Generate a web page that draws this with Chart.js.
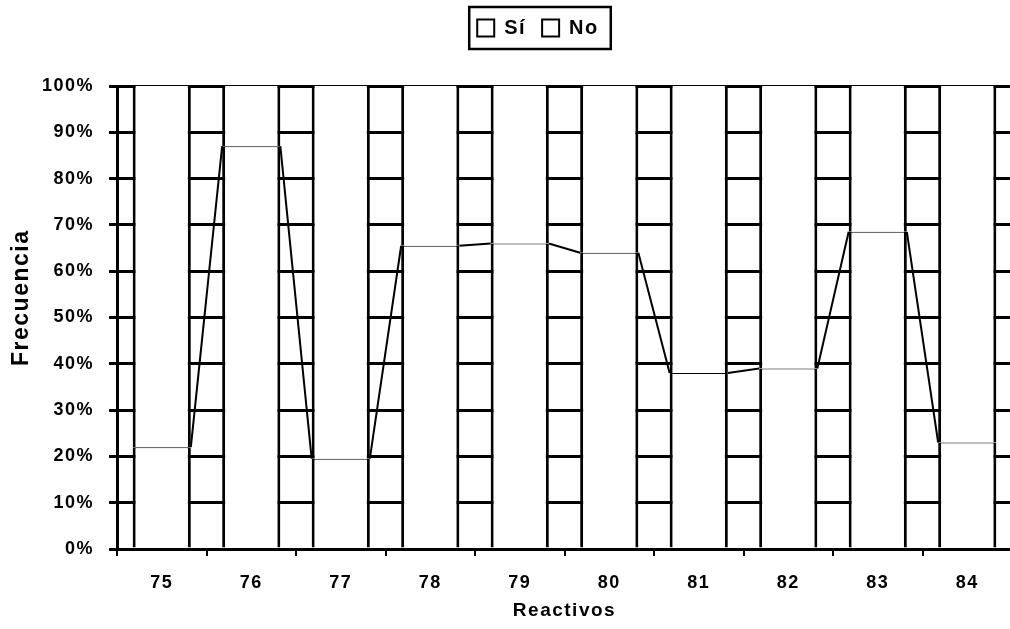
<!DOCTYPE html>
<html>
<head>
<meta charset="utf-8">
<script src="https://cdn.jsdelivr.net/npm/chart.js@4/dist/chart.umd.min.js"></script>
<style>
  html, body { margin: 0; padding: 0; background: #fff; overflow: hidden; }
  #wrap { width: 1020px; height: 629px; position: relative; }
</style>
</head>
<body>
<div id="wrap"><canvas id="myChart"></canvas></div>
<script>
// datos
const reactivos = ['75', '76', '77', '78', '79', '80', '81', '82', '83', '84']
const si = [22, 87, 19.5, 65.5, 66, 64, 38, 39, 68.5, 23]
const no = si.map(v => 100 - v)
const yTicks = [0, 10, 20, 30, 40, 50, 60, 70, 80, 90, 100]

const fuente = "'Liberation Sans', Arial, sans-serif"

// texto un poco espaciado, como el original
const espaciado = {
    id: 'espaciado',
    beforeLayout(chart) { chart.ctx.letterSpacing = '1.5px' },
    beforeDraw(chart) { chart.ctx.letterSpacing = '1.5px' }
}

// leyenda mas alta (deja hueco hasta el area del grafico) y corrida a la derecha
const legendaAjuste = {
    id: 'legendaAjuste',
    beforeInit(chart) {
        const legend = chart.legend
        const fitOrig = legend.fit
        legend.fit = function () {
            fitOrig.call(this)
            this.height = 84
        }
    },
    afterLayout(chart) {
        chart.legend.left += 32
        chart.legend.right += 32
    }
}

// lineas de serie entre barras (como en Excel)
const seriesLines = {
    id: 'seriesLines',
    afterDatasetsDraw(chart) {
        const bars = chart.getDatasetMeta(0).data
        const ctx = chart.ctx
        ctx.save()
        ctx.strokeStyle = '#000'
        ctx.lineWidth = 2
        for (let i = 0; i < bars.length - 1; i++) {
            const a = bars[i], b = bars[i + 1]
            ctx.beginPath()
            ctx.moveTo(a.x + a.width / 2, a.y)
            ctx.lineTo(b.x - b.width / 2, b.y)
            ctx.stroke()
        }
        ctx.restore()
    }
}

// marco alrededor de la leyenda
const legendFrame = {
    id: 'legendFrame',
    afterDraw(chart) {
        const boxes = chart.legend.legendHitBoxes
        if (!boxes || !boxes.length) return
        const x0 = Math.min(...boxes.map(b => b.left))
        const x1 = Math.max(...boxes.map(b => b.left + b.width))
        const y0 = Math.min(...boxes.map(b => b.top))
        const y1 = Math.max(...boxes.map(b => b.top + b.height))
        const ctx = chart.ctx
        ctx.save()
        ctx.strokeStyle = '#000'
        ctx.lineWidth = 2.5
        ctx.strokeRect(x0 - 8, y0 - 11, x1 - x0 + 20, y1 - y0 + 22)
        ctx.restore()
    }
}

let myChart = document.getElementById('myChart').getContext('2d')

const barChart = new Chart(myChart, {
    type: 'bar',
    data: {
        labels: reactivos,
        datasets: [{
            label: 'Sí',
            data: si,
            backgroundColor: '#fff',
            borderColor: '#000',
            borderWidth: { top: 1, left: 3, right: 3, bottom: 0 },
            borderSkipped: false,
            barPercentage: 0.65,
            categoryPercentage: 1
        }, {
            label: 'No',
            data: no,
            backgroundColor: '#fff',
            borderColor: '#000',
            borderWidth: { top: 0, left: 3, right: 3, bottom: 0 },
            borderSkipped: false,
            barPercentage: 0.65,
            categoryPercentage: 1
        }]
    },
    options: {
        responsive: true,
        maintainAspectRatio: false,
        animation: false,
        layout: { padding: { top: 2, right: 8, left: 0, bottom: 0 } },
        scales: {
            x: {
                stacked: true,
                afterFit: s => { s.height = 80 },
                grid: { display: true, drawOnChartArea: false, color: '#000', lineWidth: 2, tickLength: 7, offset: true },
                border: { color: '#000', width: 3 },
                ticks: { color: '#000', padding: 16, font: { family: fuente, weight: 'bold', size: 18 } },
                title: { display: true, text: 'Reactivos', color: '#000', padding: { top: 0, bottom: 7 }, font: { family: fuente, weight: 'bold', size: 19 } }
            },
            y: {
                stacked: true,
                min: 0,
                max: 100,
                afterFit: s => { s.width = 117 },
                afterBuildTicks: s => { s.ticks = yTicks.map(v => ({ value: v })) },
                grid: { color: '#000', lineWidth: 3, tickLength: 8 },
                border: { color: '#000', width: 3 },
                ticks: { color: '#000', padding: 15, font: { family: fuente, weight: 'bold', size: 18 }, callback: v => v + '%' },
                // espacios delante para subir el titulo como en el original
                title: { display: true, text: '\u00A0\u00A0\u00A0\u00A0\u00A0Frecuencia', color: '#000', padding: { top: 8, bottom: 0 }, font: { family: fuente, weight: 'bold', size: 23 } }
            }
        },
        plugins: {
            legend: {
                display: true,
                position: 'top',
                labels: {
                    color: '#000',
                    boxWidth: 17,
                    boxHeight: 17,
                    padding: 16,
                    font: { family: fuente, weight: 'bold', size: 20 },
                    generateLabels: chart => chart.data.datasets.map((d, i) => ({
                        text: d.label,
                        fillStyle: '#fff',
                        strokeStyle: '#000',
                        lineWidth: 2,
                        datasetIndex: i,
                        fontColor: '#000'
                    }))
                }
            },
            tooltip: { enabled: false }
        }
    },
    plugins: [espaciado, legendaAjuste, seriesLines, legendFrame]
})
</script>
</body>
</html>
